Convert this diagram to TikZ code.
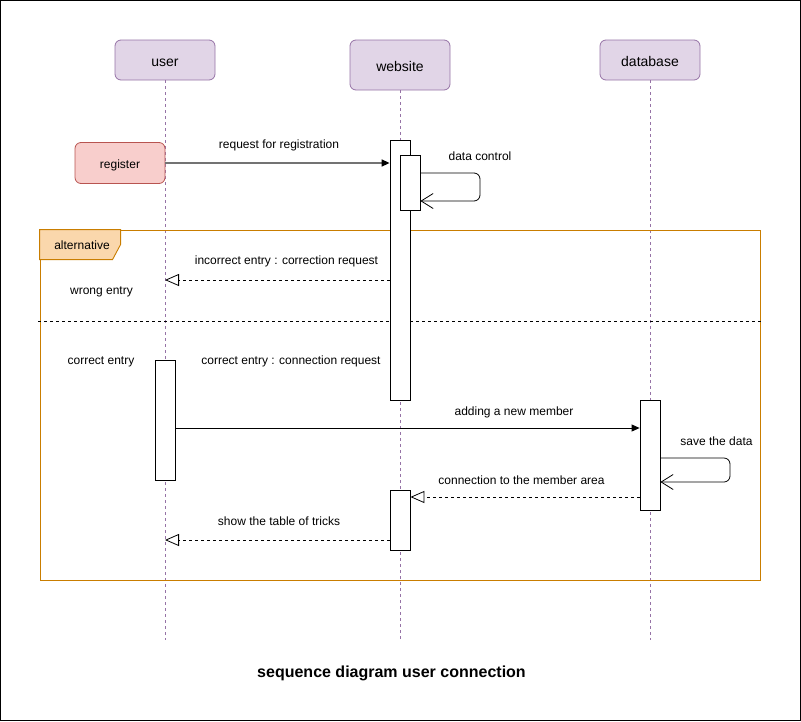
\documentclass[tikz,border=0pt]{standalone}
\usepackage{fontspec}
\setmainfont{Liberation Sans}
\usetikzlibrary{arrows.meta}
\definecolor{hdfill}{HTML}{E1D5E7}
\definecolor{hdstroke}{HTML}{9673A6}
\definecolor{regfill}{HTML}{F8CECC}
\definecolor{regstroke}{HTML}{B85450}
\definecolor{altstroke}{HTML}{C97D00}
\definecolor{tabfill}{HTML}{FAD7AC}
\begin{document}
\begin{tikzpicture}[x=1pt,y=-1pt,
  font=\fontsize{12}{14}\selectfont,
  boxtext/.style={text height=10.9pt, text depth=2.5pt},
  head/.style={draw=hdstroke, fill=hdfill, rounded corners=6pt, minimum width=100pt, minimum height=40pt, inner sep=0pt, line width=0.8pt, font=\fontsize{14}{16}\selectfont, text height=12.7pt, text depth=3pt},
  regbox/.style={draw=regstroke, fill=regfill, rounded corners=6pt, minimum width=90pt, minimum height=41pt, inner sep=0pt, line width=0.8pt, boxtext},
  life/.style={draw=hdstroke, dash pattern=on 3pt off 3pt, line width=0.8pt},
  act/.style={draw=black, fill=white, minimum width=20pt, inner sep=0pt, line width=0.8pt},
  lbl/.style={inner sep=0pt, text height=8.6pt, text depth=2.4pt, yshift=-1.2pt},
  sync/.style={draw=black, line width=0.8pt, -{Triangle[length=8pt,width=7pt,color=black]}},
  ret/.style={draw=black, line width=0.8pt, dash pattern=on 3pt off 3pt, -{Triangle[open,length=14pt,width=12pt,line width=0.8pt]}},
  selfl/.style={draw=black, line width=0.8pt, rounded corners=6pt, -{Straight Barb[length=12pt,width=15pt,line width=0.8pt]}},
  sep/.style={draw=black, line width=0.8pt, dash pattern=on 3pt off 3pt},
  altframe/.style={draw=altstroke, line width=0.9pt, minimum width=720pt, minimum height=350pt, inner sep=0pt},
  tab/.style={draw=altstroke, fill=tabfill, line width=0.9pt}
]
\useasboundingbox (0,0) rectangle (801,721);
\node[draw=black, line width=1pt, minimum width=800pt, minimum height=720pt, inner sep=0pt] (border) at (400.5,360.5) {};

% lifeline heads
\node[head] (user) at (165,60) {};
\node[head, minimum height=50pt] (web) at (400,65) {};
\node[head] (db) at (650,60) {};
\node[inner sep=0pt, font=\fontsize{14}{16}\selectfont, text height=12.7pt, text depth=3pt] (userT) at (165,62) {user};
\node[inner sep=0pt, font=\fontsize{14}{16}\selectfont, text height=12.7pt, text depth=3pt] (webT) at (400,67) {website};
\node[inner sep=0pt, font=\fontsize{14}{16}\selectfont, text height=12.7pt, text depth=3pt] (dbT) at (650,62) {database};
\coordinate (userEnd) at (165,640);
\coordinate (webEnd) at (400,640);
\coordinate (dbEnd) at (650,640);
\draw[life] (user.south) -- (userEnd);
\draw[life] (web.south) -- (webEnd);
\draw[life] (db.south) -- (dbEnd);

% alternative frame
\node[altframe] (alt) at (400,405) {};
\draw[tab] (alt.north west) -- ++(81,0) -- ++(0,15) -- ++(-8,15) -- ++(-73,0) -- cycle;
\node[lbl] (altlbl) at (82,245.5) {alternative};
\coordinate (sepL) at (38,321);
\coordinate (sepR) at (762,321);
\draw[sep] (sepL) -- (sepR);

% register
\node[regbox] (reg) at (120,163) {};
\node[boxtext, inner sep=0pt] (regT) at (120,164.5) {register};

% activations
\node[act, minimum height=260pt] (wa1) at (400,270) {};
\node[act, minimum height=55pt] (wi) at (410,182.5) {};
\node[act, minimum height=120pt] (ua) at (165,420) {};
\node[act, minimum height=110pt] (dba) at (650,455) {};
\node[act, minimum height=60pt] (wa2) at (400,520) {};

% messages
\draw[sync, draw=black!55, line width=1.4pt] (reg.east) -- (reg.east -| wa1.west);
\node[lbl] (m1) at (279,144) {request for registration};

\draw[selfl] (wi.east |- 0,173) -- (480,173) -- (480,201) -- (wi.east |- 0,201);
\node[lbl] (m2) at (480,156) {data control};

\coordinate (uRet1) at (165,280);
\draw[ret] (wa1.west |- uRet1) -- (uRet1);
\node[lbl] (m3) at (286.5,260.5) {incorrect entry : correction request};
\node[lbl] (m4) at (101.5,290.5) {wrong entry};

\node[lbl] (m5) at (101,360.5) {correct entry};
\node[lbl] (m6) at (291,360.5) {correct entry : connection request};

\draw[sync] (ua.east |- 0,428) -- (dba.west |- 0,428);
\node[lbl] (m7) at (514,411) {adding a new member};

\draw[selfl] (dba.east |- 0,458) -- (730,458) -- (730,482) -- (dba.east |- 0,482);
\node[lbl] (m8) at (716.5,441) {save the data};

\draw[ret] (dba.west |- 0,497) -- (wa2.east |- 0,497);
\node[lbl] (m9) at (521.5,480.5) {connection to the member area};

\coordinate (uRet2) at (165,540);
\draw[ret] (wa2.west |- uRet2) -- (uRet2);
\node[lbl] (m10) at (279,521) {show the table of tricks};

\node[inner sep=0pt, font=\fontsize{16}{18}\selectfont\bfseries] (title) at (391.5,673) {sequence diagram user connection};
\end{tikzpicture}
\end{document}
